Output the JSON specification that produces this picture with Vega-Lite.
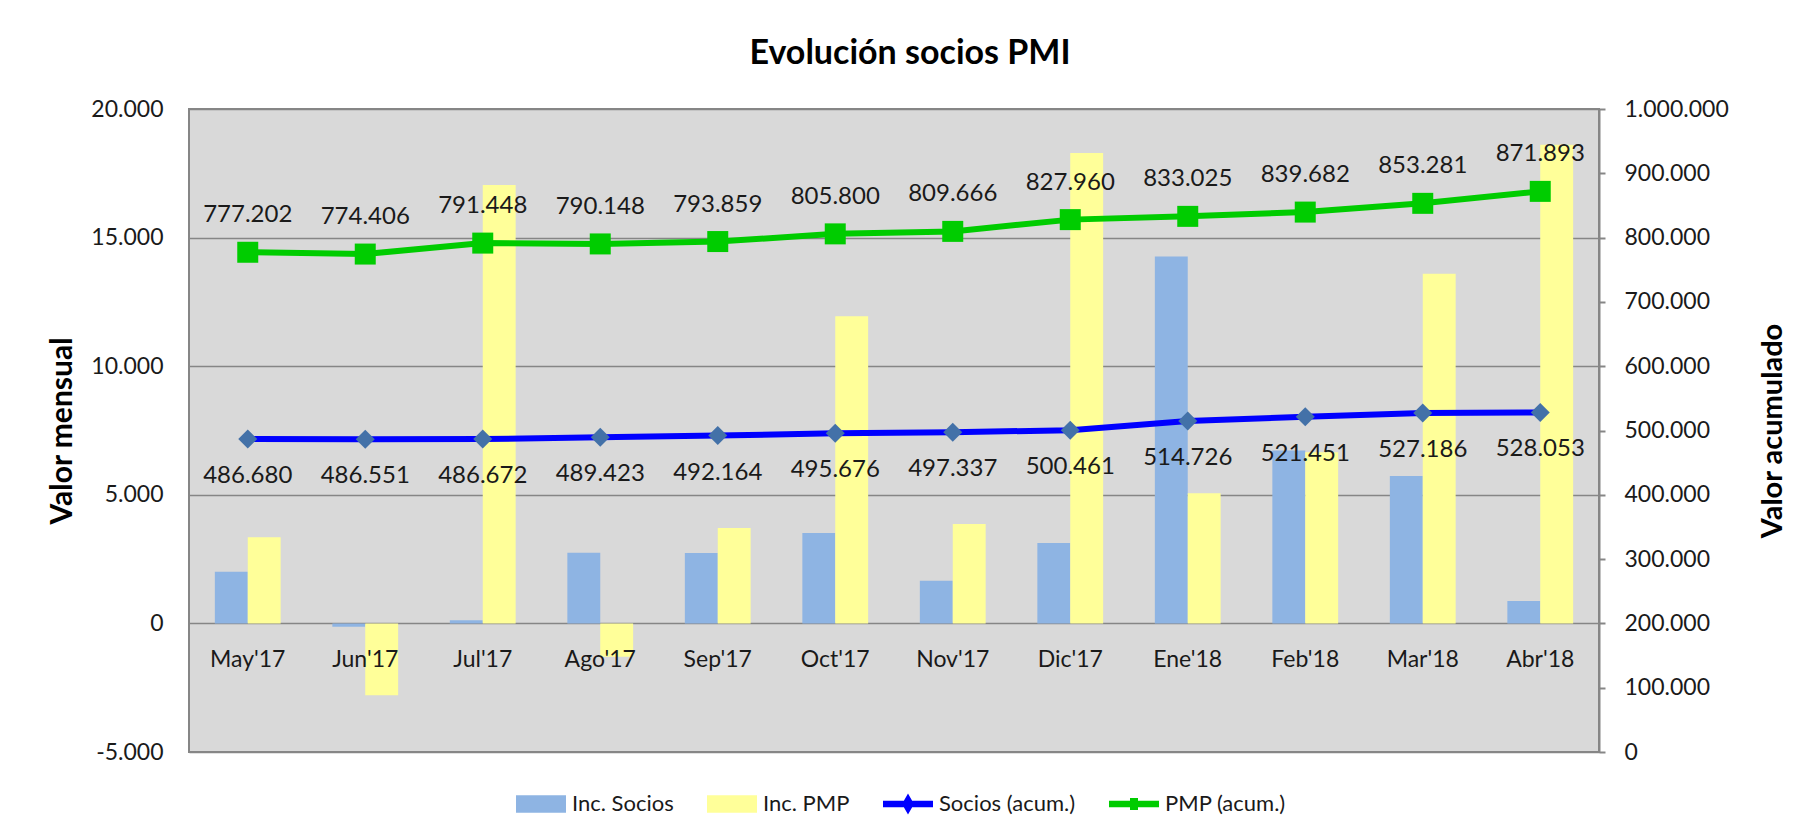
{
  "$schema": "https://vega.github.io/schema/vega-lite/v6.json",
  "width": 1410,
  "height": 643,
  "autosize": {"type": "none"},
  "padding": {"left": 189, "top": 109, "right": 201, "bottom": 86},
  "background": "white",
  "config": {
    "locale": {"number": {"decimal": ",", "thousands": ".", "grouping": [3], "currency": ["", " €"], "minus": "-"}},
    "view": {"fill": "#D9D9D9", "stroke": "#868686", "strokeWidth": 2},
    "font": "Lato",
    "axis": {"labelFont": "Lato", "titleFont": "Lato", "labelColor": "#1a1a1a", "titleColor": "#000000"}
  },
  "title": {
    "text": "Evolución socios PMI",
    "font": "Lato",
    "fontSize": 34,
    "fontWeight": "bold",
    "color": "#000000",
    "anchor": "middle",
    "dx": 16,
    "baseline": "alphabetic",
    "offset": 0
  },
  "datasets": {
    "barras": [
      {"mes": "May'17", "serie": "Inc. Socios", "valor": 2010},
      {"mes": "May'17", "serie": "Inc. PMP", "valor": 3350},
      {"mes": "Jun'17", "serie": "Inc. Socios", "valor": -129},
      {"mes": "Jun'17", "serie": "Inc. PMP", "valor": -2796},
      {"mes": "Jul'17", "serie": "Inc. Socios", "valor": 121},
      {"mes": "Jul'17", "serie": "Inc. PMP", "valor": 17042},
      {"mes": "Ago'17", "serie": "Inc. Socios", "valor": 2751},
      {"mes": "Ago'17", "serie": "Inc. PMP", "valor": -1300},
      {"mes": "Sep'17", "serie": "Inc. Socios", "valor": 2741},
      {"mes": "Sep'17", "serie": "Inc. PMP", "valor": 3711},
      {"mes": "Oct'17", "serie": "Inc. Socios", "valor": 3512},
      {"mes": "Oct'17", "serie": "Inc. PMP", "valor": 11941},
      {"mes": "Nov'17", "serie": "Inc. Socios", "valor": 1661},
      {"mes": "Nov'17", "serie": "Inc. PMP", "valor": 3866},
      {"mes": "Dic'17", "serie": "Inc. Socios", "valor": 3124},
      {"mes": "Dic'17", "serie": "Inc. PMP", "valor": 18294},
      {"mes": "Ene'18", "serie": "Inc. Socios", "valor": 14265},
      {"mes": "Ene'18", "serie": "Inc. PMP", "valor": 5065},
      {"mes": "Feb'18", "serie": "Inc. Socios", "valor": 6725},
      {"mes": "Feb'18", "serie": "Inc. PMP", "valor": 6657},
      {"mes": "Mar'18", "serie": "Inc. Socios", "valor": 5735},
      {"mes": "Mar'18", "serie": "Inc. PMP", "valor": 13599},
      {"mes": "Abr'18", "serie": "Inc. Socios", "valor": 867},
      {"mes": "Abr'18", "serie": "Inc. PMP", "valor": 18612}
    ],
    "lineas": [
      {"mes": "May'17", "serie": "Socios (acum.)", "valor": 486680},
      {"mes": "Jun'17", "serie": "Socios (acum.)", "valor": 486551},
      {"mes": "Jul'17", "serie": "Socios (acum.)", "valor": 486672},
      {"mes": "Ago'17", "serie": "Socios (acum.)", "valor": 489423},
      {"mes": "Sep'17", "serie": "Socios (acum.)", "valor": 492164},
      {"mes": "Oct'17", "serie": "Socios (acum.)", "valor": 495676},
      {"mes": "Nov'17", "serie": "Socios (acum.)", "valor": 497337},
      {"mes": "Dic'17", "serie": "Socios (acum.)", "valor": 500461},
      {"mes": "Ene'18", "serie": "Socios (acum.)", "valor": 514726},
      {"mes": "Feb'18", "serie": "Socios (acum.)", "valor": 521451},
      {"mes": "Mar'18", "serie": "Socios (acum.)", "valor": 527186},
      {"mes": "Abr'18", "serie": "Socios (acum.)", "valor": 528053},
      {"mes": "May'17", "serie": "PMP (acum.)", "valor": 777202},
      {"mes": "Jun'17", "serie": "PMP (acum.)", "valor": 774406},
      {"mes": "Jul'17", "serie": "PMP (acum.)", "valor": 791448},
      {"mes": "Ago'17", "serie": "PMP (acum.)", "valor": 790148},
      {"mes": "Sep'17", "serie": "PMP (acum.)", "valor": 793859},
      {"mes": "Oct'17", "serie": "PMP (acum.)", "valor": 805800},
      {"mes": "Nov'17", "serie": "PMP (acum.)", "valor": 809666},
      {"mes": "Dic'17", "serie": "PMP (acum.)", "valor": 827960},
      {"mes": "Ene'18", "serie": "PMP (acum.)", "valor": 833025},
      {"mes": "Feb'18", "serie": "PMP (acum.)", "valor": 839682},
      {"mes": "Mar'18", "serie": "PMP (acum.)", "valor": 853281},
      {"mes": "Abr'18", "serie": "PMP (acum.)", "valor": 871893}
    ]
  },
  "layer": [
    {
      "data": {"name": "barras"},
      "mark": {"type": "bar"},
      "encoding": {
        "x": {
          "field": "mes", "type": "nominal",
          "sort": ["May'17", "Jun'17", "Jul'17", "Ago'17", "Sep'17", "Oct'17", "Nov'17", "Dic'17", "Ene'18", "Feb'18", "Mar'18", "Abr'18"],
          "scale": {"paddingInner": 0.44, "paddingOuter": 0.22},
          "axis": {"title": null, "orient": "bottom", "offset": -128.6, "zindex": 2, "domain": false, "ticks": false, "grid": false, "labelAngle": 0, "labelPadding": 43, "labelBaseline": "alphabetic", "labelFontSize": 23}
        },
        "xOffset": {"field": "serie", "type": "nominal", "sort": ["Inc. Socios", "Inc. PMP"], "scale": {"paddingInner": 0, "paddingOuter": 0}},
        "y": {
          "field": "valor", "type": "quantitative",
          "scale": {"domain": [-5000, 20000], "nice": false, "zero": false},
          "axis": {"orient": "left", "title": "Valor mensual", "values": [-5000, 0, 5000, 10000, 15000, 20000], "format": ",d", "grid": true, "gridColor": "#868686", "gridWidth": 1.5, "gridOpacity": 1, "domain": false, "ticks": false, "labelPadding": 26, "labelFontSize": 23, "titleFontSize": 30, "titleFontWeight": "bold", "titlePadding": 13}
        },
        "color": {
          "field": "serie", "type": "nominal",
          "scale": {"domain": ["Inc. Socios", "Inc. PMP", "Socios (acum.)", "PMP (acum.)"], "range": ["#8EB4E3", "#FFFF99", "#0000FF", "#00CC00"]},
          "legend": {
            "orient": "none", "legendX": 327, "legendY": 670, "direction": "horizontal", "title": null,
            "symbolSize": 2500, "symbolStrokeWidth": 0, "labelFontSize": 22, "labelFont": "Lato", "labelColor": "#1a1a1a",
            "labelOffset": 6, "columnPadding": 33, "padding": 0,
            "encode": {
              "symbols": {
                "update": {
                  "shape": {"signal": "(datum.value == 'Inc. Socios' || datum.value == 'Inc. PMP') ? 'M-1,-0.35H1V0.35H-1Z' : (datum.value == 'Socios (acum.)' ? 'M-1,-0.13H1V0.13H-1Z M0,-0.42L0.24,0L0,0.42L-0.24,0Z' : 'M-1,-0.13H1V0.13H-1Z M-0.16,-0.24H0.16V0.24H-0.16Z')"},
                  "fill": {"signal": "datum.value == 'Inc. Socios' ? '#8EB4E3' : (datum.value == 'Inc. PMP' ? '#FFFF99' : (datum.value == 'Socios (acum.)' ? '#0000FF' : '#00CC00'))"},
                  "stroke": {"value": "transparent"},
                  "strokeWidth": {"value": 0},
                  "size": {"value": 2500},
                  "opacity": {"value": 1}
                }
              }
            }
          }
        }
      }
    },
    {
      "data": {"name": "lineas"},
      "encoding": {
        "x": {"field": "mes", "type": "nominal", "sort": ["May'17", "Jun'17", "Jul'17", "Ago'17", "Sep'17", "Oct'17", "Nov'17", "Dic'17", "Ene'18", "Feb'18", "Mar'18", "Abr'18"]},
        "y": {
          "field": "valor", "type": "quantitative",
          "scale": {"domain": [0, 1000000], "nice": false},
          "axis": {"orient": "right", "title": "Valor acumulado", "values": [0, 100000, 200000, 300000, 400000, 500000, 600000, 700000, 800000, 900000, 1000000], "format": ",d", "grid": false, "domain": true, "domainColor": "#868686", "domainWidth": 2, "ticks": true, "tickColor": "#868686", "tickWidth": 2, "tickSize": 6, "labelPadding": 19, "labelFontSize": 23, "titleFontSize": 29, "titleFontWeight": "bold", "titleAngle": -90, "titleBaseline": "top", "titlePadding": 30}
        }
      },
      "layer": [
        {
          "mark": {"type": "line", "strokeWidth": 6},
          "encoding": {
            "color": {"field": "serie", "type": "nominal", "legend": null}
          }
        },
        {
          "transform": [{"filter": "datum.serie == 'Socios (acum.)'"}],
          "mark": {"type": "point", "shape": "diamond", "filled": true, "size": 360, "color": "#4371A8", "opacity": 1}
        },
        {
          "transform": [{"filter": "datum.serie == 'PMP (acum.)'"}],
          "mark": {"type": "point", "shape": "square", "filled": true, "size": 441, "color": "#00CC00", "opacity": 1}
        },
        {
          "transform": [{"filter": "datum.serie == 'Socios (acum.)'"}],
          "mark": {"type": "text", "dy": 37, "fontSize": 24, "font": "Lato", "color": "#1a1a1a", "baseline": "middle"},
          "encoding": {"text": {"field": "valor", "type": "quantitative", "format": ",d"}}
        },
        {
          "transform": [{"filter": "datum.serie == 'PMP (acum.)'"}],
          "mark": {"type": "text", "dy": -37, "fontSize": 24, "font": "Lato", "color": "#1a1a1a", "baseline": "middle"},
          "encoding": {"text": {"field": "valor", "type": "quantitative", "format": ",d"}}
        }
      ]
    }
  ],
  "resolve": {"scale": {"y": "independent"}}
}
